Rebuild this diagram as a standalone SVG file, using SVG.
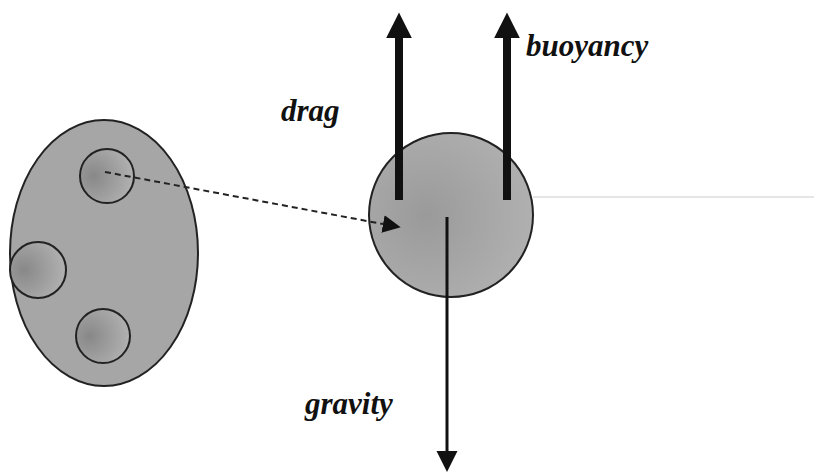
<svg xmlns="http://www.w3.org/2000/svg" width="814" height="476" viewBox="0 0 814 476">
<defs>
<radialGradient id="small" cx="0.25" cy="0.5" r="0.8">
<stop offset="0" stop-color="#888"/>
<stop offset="1" stop-color="#b4b4b4"/>
</radialGradient>
<radialGradient id="big" cx="0.35" cy="0.5" r="0.7">
<stop offset="0" stop-color="#9a9a9a"/>
<stop offset="1" stop-color="#b2b2b2"/>
</radialGradient>
<marker id="headBig" viewBox="0 0 10 10" refX="0" refY="5" markerWidth="3.2" markerHeight="3.4" orient="auto" markerUnits="strokeWidth">
<path d="M0,0 L10,5 L0,10 Z" fill="#111"/>
</marker>
<marker id="headSmall" viewBox="0 0 10 10" refX="0" refY="5" markerWidth="9" markerHeight="9" orient="auto" markerUnits="strokeWidth">
<path d="M0,0 L10,5 L0,10 Z" fill="#111"/>
</marker>
<marker id="headGrav" viewBox="0 0 10 10" refX="0" refY="5" markerWidth="7" markerHeight="9" orient="auto" markerUnits="strokeWidth">
<path d="M0,0 L10,5 L0,10 Z" fill="#111"/>
</marker>
</defs>
<style>
.cell{fill:#a6a6a6;stroke:#222;stroke-width:2}
.sm{fill:url(#small);stroke:#222;stroke-width:2}
.lbl{font-family:"Liberation Serif",serif;font-style:italic;font-weight:bold;font-size:31px;fill:#111}
.force{stroke:#111;stroke-width:8;fill:none}
</style>
<rect width="814" height="476" fill="#fff"/>
<line x1="533" y1="197" x2="814" y2="197" stroke="#ccc" stroke-width="1"/>
<g id="cell">
<ellipse class="cell" cx="104" cy="253" rx="94" ry="133"/>
</g>
<g id="vesicle-top"><circle class="sm" cx="107" cy="176" r="27"/></g>
<g id="vesicle-left"><circle class="sm" cx="38" cy="270" r="28"/></g>
<g id="vesicle-bottom"><circle class="sm" cx="103" cy="336" r="27"/></g>
<g id="particle"><circle cx="451" cy="215" r="82" fill="url(#big)" stroke="#222" stroke-width="2"/></g>
<g id="connectors">
<line x1="105" y1="172" x2="383" y2="224" stroke="#222" stroke-width="2" stroke-dasharray="6,4" marker-end="url(#headSmall)"/>
<line class="force" x1="399" y1="200" x2="399" y2="38" marker-end="url(#headBig)"/>
<line class="force" x1="507" y1="200" x2="507" y2="38" marker-end="url(#headBig)"/>
<line x1="447" y1="217" x2="447" y2="451" stroke="#111" stroke-width="3" marker-end="url(#headGrav)"/>
</g>
<text class="lbl" x="281" y="121">drag</text>
<text class="lbl" x="526" y="56">buoyancy</text>
<text class="lbl" x="305" y="414">gravity</text>
</svg>
